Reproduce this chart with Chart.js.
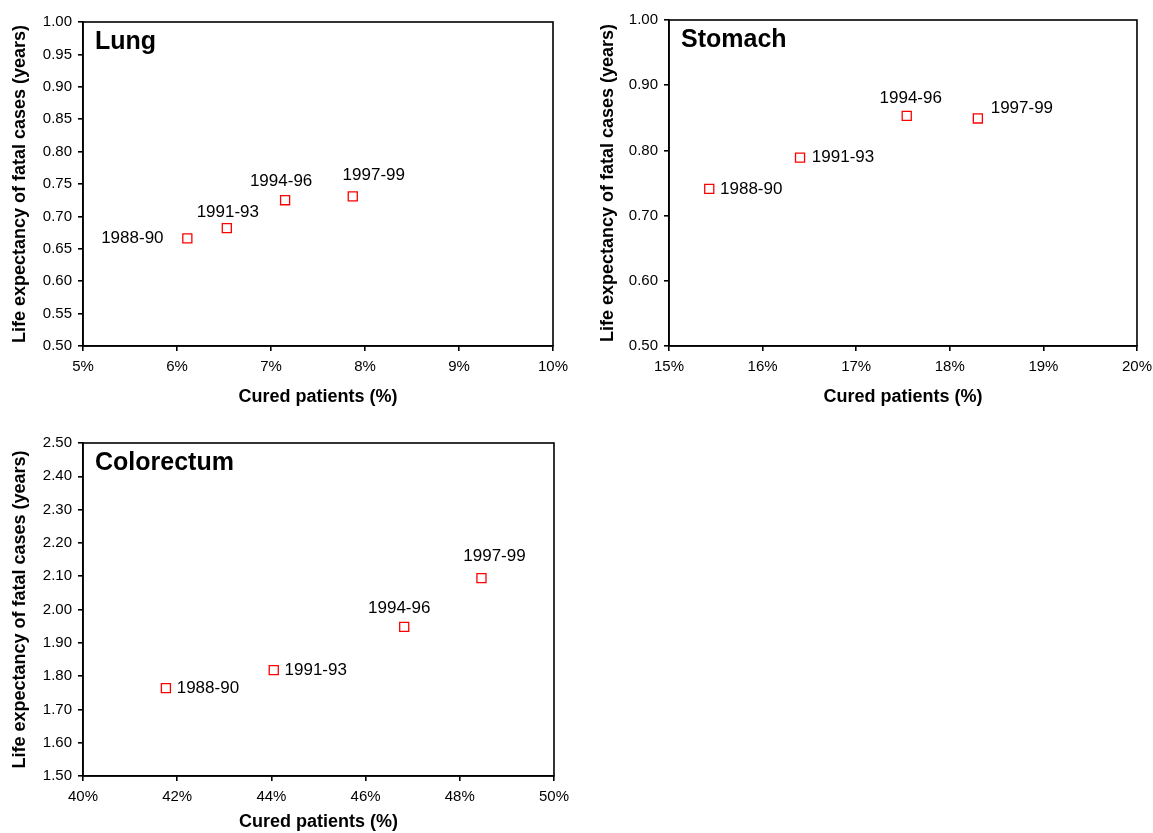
<!DOCTYPE html>
<html>
<head>
<meta charset="utf-8">
<script src="https://cdn.jsdelivr.net/npm/chart.js@4"></script>
<style>
  html, body { margin: 0; padding: 0; background: #fff; overflow: hidden; }
  .box { position: absolute; }
</style>
</head>
<body>
<div class="box" style="left:0px;top:0px"><canvas id="lungChart" width="576" height="415"></canvas></div>
<div class="box" style="left:588px;top:0px"><canvas id="stomachChart" width="571" height="415"></canvas></div>
<div class="box" style="left:0px;top:420px"><canvas id="coloChart" width="576" height="413"></canvas></div>
<script>
const periods = ['1988-90', '1991-93', '1994-96', '1997-99'];

const lungCured = [6.11, 6.53, 7.15, 7.87];
const lungLife = [0.666, 0.682, 0.725, 0.731];
const stomachCured = [15.43, 16.40, 17.54, 18.30];
const stomachLife = [0.741, 0.789, 0.853, 0.849];
const coloCured = [41.76, 44.05, 46.82, 48.46];
const coloLife = [1.764, 1.818, 1.948, 2.094];

const lungX = [5, 10, 1];
const lungY = [0.5, 1.0, 0.05];
const stomachX = [15, 20, 1];
const stomachY = [0.5, 1.0, 0.1];
const coloX = [40, 50, 2];
const coloY = [1.5, 2.5, 0.1];

const xTitle = 'Cured patients (%)';
const yTitle = 'Life expectancy of fatal cases (years)';

// where each period label sits relative to its marker (text centre, px)
const lungLabelPos = [[-55, 0], [1, -16], [-4, -19], [21, -21]];
const stomachLabelPos = [[42, 0], [43, 0], [4, -18], [44, -10]];
const coloLabelPos = [[42, 0], [42, 0], [-5, -19], [13, -22]];

const FONT = '"Liberation Sans", Arial, sans-serif';
const LINE = 1.6;

const framePlugin = {
    id: 'frame',
    afterDraw(chart) {
        const a = chart.chartArea, ctx = chart.ctx;
        ctx.save();
        ctx.strokeStyle = '#000'; ctx.lineWidth = LINE;
        ctx.strokeRect(a.left, a.top, a.right - a.left, a.bottom - a.top);
        ctx.restore();
    }
};

const textPlugin = {
    id: 'texts',
    afterDatasetsDraw(chart, args, opts) {
        const ctx = chart.ctx, a = chart.chartArea;
        ctx.save();
        ctx.fillStyle = '#000';
        ctx.font = 'bold 25px ' + FONT;
        ctx.textAlign = 'left'; ctx.textBaseline = 'middle';
        ctx.fillText(opts.name, a.left + 12, a.top + 20);
        ctx.font = '17px ' + FONT;
        ctx.textAlign = 'center';
        chart.getDatasetMeta(0).data.forEach((pt, i) => {
            const off = opts.pos[i];
            ctx.fillText(periods[i], pt.x + off[0], pt.y + off[1]);
        });
        ctx.restore();
    }
};

function makeChart(id, name, cured, life, xr, yr, labelPos, yWidth, xHeight, pad) {
    const ctx = document.getElementById(id).getContext('2d');
    return new Chart(ctx, {
        type: 'scatter',
        data: {
            datasets: [{
                data: cured.map((v, i) => ({ x: v, y: life[i] })),
                pointStyle: 'rect',
                pointRadius: 6.4,
                pointBorderWidth: 1.3,
                pointBorderColor: '#ff0000',
                pointBackgroundColor: '#fff'
            }]
        },
        options: {
            responsive: false,
            animation: false,
            layout: { padding: { top: pad[0], right: pad[1], left: 0, bottom: 0 } },
            plugins: {
                legend: { display: false },
                tooltip: { enabled: false },
                texts: { name: name, pos: labelPos }
            },
            scales: {
                x: {
                    type: 'linear', min: xr[0], max: xr[1],
                    afterFit: s => { s.height = xHeight; },
                    ticks: { stepSize: xr[2], color: '#000', padding: 7, font: { family: FONT, size: 15 }, callback: v => v + '%' },
                    grid: { drawOnChartArea: false, tickLength: 5, color: '#000', lineWidth: LINE },
                    border: { color: '#000', width: LINE },
                    title: { display: true, text: xTitle, color: '#000', padding: { top: 0, bottom: pad[2] }, font: { family: FONT, size: 18, weight: 'bold' } }
                },
                y: {
                    type: 'linear', min: yr[0], max: yr[1],
                    afterFit: s => { s.width = yWidth; },
                    ticks: { stepSize: yr[2], color: '#000', padding: 6, font: { family: FONT, size: 15 }, callback: v => v.toFixed(2) },
                    grid: { drawOnChartArea: false, tickLength: 5, color: '#000', lineWidth: LINE },
                    border: { color: '#000', width: LINE },
                    title: { display: true, text: yTitle, color: '#000', padding: { top: 9, bottom: 0 }, font: { family: FONT, size: 18, weight: 'bold' } }
                }
            }
        },
        plugins: [framePlugin, textPlugin]
    });
}

makeChart('lungChart', 'Lung', lungCured, lungLife, lungX, lungY, lungLabelPos, 83, 69, [22, 23, 7]);
makeChart('stomachChart', 'Stomach', stomachCured, stomachLife, stomachX, stomachY, stomachLabelPos, 81, 69, [20, 16, 7]);
makeChart('coloChart', 'Colorectum', coloCured, coloLife, coloX, coloY, coloLabelPos, 83, 57, [23, 22, 0]);
</script>
</body>
</html>
